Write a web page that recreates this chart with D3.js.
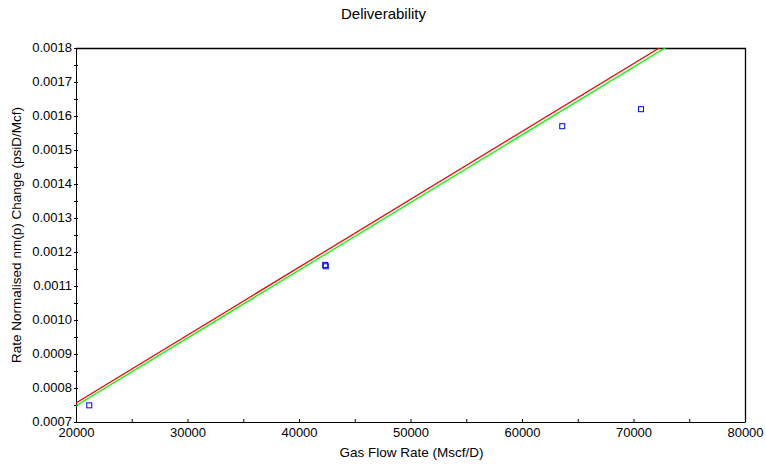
<!DOCTYPE html>
<html>
<head>
<meta charset="utf-8">
<script src="https://cdn.jsdelivr.net/npm/d3@7"></script>
<style>
  body { margin: 0; background: #fff; }
  text { font-family: "Liberation Sans", Arial, sans-serif; fill: #000; }
  .axis path, .axis line { stroke: #000; }
</style>
</head>
<body>
<div id="chart"></div>
<script>
// measured points (gas rate, normalised change)
const pointX = [21190, 42350, 42400, 63610, 70670];
const pointY = [0.000749, 0.001162, 0.001158, 0.00157, 0.00162];

// fitted lines, two endpoints each
const redX = [20000, 72310];
const redY = [0.000756, 0.0018];
const greenX = [20000, 72830];
const greenY = [0.000748, 0.0018];

const xTicks = [20000, 30000, 40000, 50000, 60000, 70000, 80000];
const yTicks = [0.0007, 0.0008, 0.0009, 0.0010, 0.0011, 0.0012, 0.0013, 0.0014, 0.0015, 0.0016, 0.0017, 0.0018];

var margin = { top: 48, right: 21, bottom: 51, left: 76 },
  width = 766 - margin.left - margin.right,
  height = 473 - margin.top - margin.bottom;

var svg = d3
  .select("#chart")
  .append("svg")
  .attr("width", 766)
  .attr("height", 473);

var g = svg
  .append("g")
  .attr("transform", "translate(" + margin.left + "," + margin.top + ")");

var xScale = d3.scaleLinear().domain([20000, 80000]).range([0, width]);
var yScale = d3.scaleLinear().domain([0.0007, 0.0018]).range([height, 0]);

// minor ticks every half step
var xMinor = d3.range(20000, 80001, 5000);
var yMinor = d3.range(0, 23).map((i) => 0.0007 + i * 0.00005);

g.append("clipPath")
  .attr("id", "clip")
  .append("rect")
  .attr("width", width)
  .attr("height", height);

// frame (top and right)
g.append("path")
  .attr("d", "M0,0.5H" + (width + 0.5) + "V" + height)
  .attr("fill", "none")
  .attr("stroke", "#000")
  .attr("stroke-width", 1.3);

// x axis: ticks point inward
var xAxis = g
  .append("g")
  .attr("class", "axis")
  .attr("transform", "translate(0," + height + ")")
  .call(
    d3.axisBottom(xScale)
      .tickValues(xMinor)
      .tickSize(-3)
      .tickSizeOuter(0)
      .tickFormat((d) => (xTicks.includes(d) ? d3.format("d")(d) : ""))
  );
xAxis.selectAll("text")
  .attr("y", 6)
  .style("font-size", "13px")
  .style("font-family", "Liberation Sans, Arial, sans-serif");

// y axis: ticks cross the axis line
var yAxis = g
  .append("g")
  .attr("class", "axis")
  .call(
    d3.axisLeft(yScale)
      .tickValues(yMinor)
      .tickSize(2)
      .tickSizeOuter(0)
      .tickFormat((d, i) => (i % 2 === 0 ? d3.format(".4f")(d) : ""))
  );
yAxis.selectAll(".tick line").attr("x1", 2);
yAxis.selectAll("text")
  .attr("x", -4)
  .attr("dy", "0.3em")
  .style("font-size", "13px")
  .style("font-family", "Liberation Sans, Arial, sans-serif");

// fitted lines
var line = d3
  .line()
  .x((d) => xScale(d.x))
  .y((d) => yScale(d.y));

var red = redX.map((d, i) => ({ x: d, y: redY[i] }));
var green = greenX.map((d, i) => ({ x: d, y: greenY[i] }));

g.append("path")
  .datum(red)
  .attr("clip-path", "url(#clip)")
  .attr("fill", "none")
  .attr("stroke", "#ff0000")
  .attr("stroke-width", 1.3)
  .attr("d", line);

g.append("path")
  .datum(green)
  .attr("clip-path", "url(#clip)")
  .attr("fill", "none")
  .attr("stroke", "#00ff00")
  .attr("stroke-width", 1.3)
  .attr("d", line);

// data points as small open squares
var points = pointX.map((d, i) => ({ x: d, y: pointY[i] }));
g.selectAll(".dot")
  .data(points)
  .enter()
  .append("rect")
  .attr("class", "dot")
  .attr("x", (d) => xScale(d.x) - 2.5)
  .attr("y", (d) => yScale(d.y) - 2.5)
  .attr("width", 5)
  .attr("height", 5)
  .attr("fill", "none")
  .attr("stroke", "#0000ff")
  .attr("stroke-width", 1);

// titles
svg.append("text")
  .attr("x", margin.left + width / 2 - 27)
  .attr("y", 19)
  .attr("text-anchor", "middle")
  .style("font-size", "15px")
  .text("Deliverability");

svg.append("text")
  .attr("x", margin.left + width / 2 + 1)
  .attr("y", 457)
  .attr("text-anchor", "middle")
  .style("font-size", "13.5px")
  .text("Gas Flow Rate (Mscf/D)");

svg.append("text")
  .attr("transform", "translate(21," + (margin.top + height / 2) + ") rotate(-90)")
  .attr("text-anchor", "middle")
  .style("font-size", "13.5px")
  .text("Rate Normalised nm(p) Change (psiD/Mcf)");
</script>
</body>
</html>
